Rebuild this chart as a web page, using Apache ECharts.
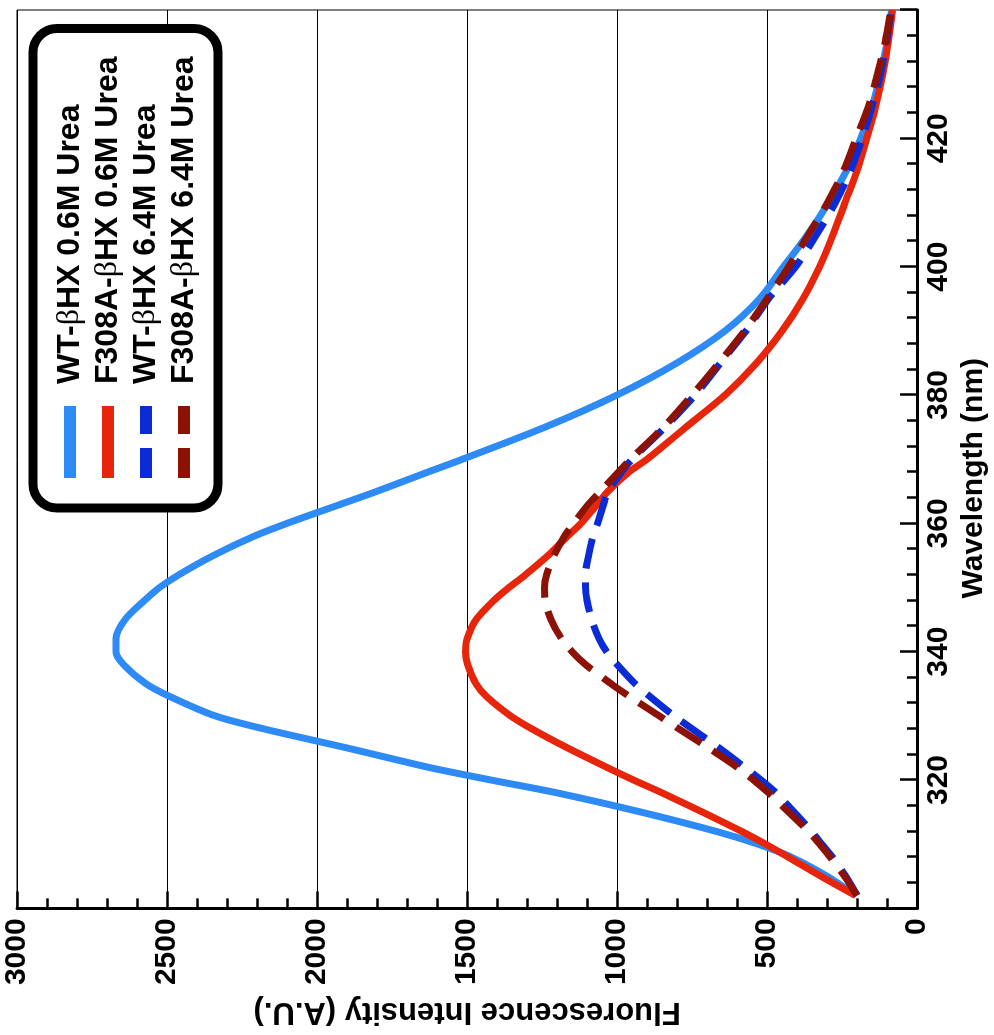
<!DOCTYPE html>
<html>
<head>
<meta charset="utf-8">
<title>Fluorescence</title>
<script src="https://cdn.jsdelivr.net/npm/echarts@6/dist/echarts.min.js"></script>
<style>
html, body { margin: 0; padding: 0; background: #fff; overflow: hidden; }
/* chart is drawn upright, then turned a quarter to the left like the figure */
#chart { position: absolute; left: 0; top: 0; width: 1035px; height: 994px;
  transform-origin: 0 0; transform: translate(0, 1035px) rotate(-90deg); }
</style>
</head>
<body>
<div id="chart"></div>
<script>
var wavelength = [302, 305, 308, 310, 312, 315, 318, 320, 322, 325, 328, 330, 333, 335, 338, 340, 342, 345, 348, 350,
  352, 355, 358, 360, 363, 365, 368, 370, 375, 380, 385, 390, 395, 400, 405, 410, 415, 420, 425, 430, 435, 440];

var wt06 = [205, 300, 420, 530, 670, 920, 1200, 1420, 1630, 1900, 2180, 2340, 2490, 2570, 2645, 2670, 2670, 2640, 2575, 2525,
  2460, 2345, 2210, 2100, 1920, 1800, 1630, 1515, 1240, 1000, 800, 640, 525, 445, 365, 295, 235, 188, 150, 122, 100, 85];

var f308a06 = [205, 320, 430, 505, 585, 715, 850, 945, 1035, 1165, 1285, 1355, 1435, 1470, 1498, 1505, 1500, 1470, 1410, 1360,
  1305, 1230, 1165, 1120, 1065, 1030, 960, 900, 770, 640, 535, 450, 380, 325, 280, 240, 200, 168, 138, 114, 96, 82];

var wt64 = [200, 238, 282, 318, 352, 410, 470, 520, 575, 660, 750, 810, 890, 940, 1000, 1035, 1060, 1085, 1100, 1105,
  1105, 1095, 1080, 1065, 1045, 1030, 985, 950, 840, 740, 655, 570, 495, 405, 335, 272, 222, 183, 150, 122, 102, 86];

var f308a64 = [200, 242, 290, 325, 362, 428, 495, 545, 600, 695, 795, 860, 958, 1020, 1105, 1150, 1185, 1220, 1240, 1242,
  1235, 1210, 1175, 1145, 1095, 1055, 995, 955, 845, 750, 660, 575, 500, 428, 362, 298, 245, 203, 162, 132, 106, 88];

var names = ['WT-βHX 0.6M Urea', 'F308A-βHX 0.6M Urea', 'WT-βHX 6.4M Urea', 'F308A-βHX 6.4M Urea'];
var colors = ['#2e8bf6', '#e6250b', '#0b2bd6', '#8b1204'];
var values = [wt06, f308a06, wt64, f308a64];
var dashed = [false, false, true, true];

function pairs(arr) {
	var out = [];
	for (var i = 0; i < wavelength.length; i++) {
		out.push([wavelength[i], arr[i]]);
	}
	return out;
}

var series = [];
for (var k = 0; k < names.length; k++) {
	series.push({
		name: names[k],
		type: 'line',
		data: pairs(values[k]),
		symbol: 'none',
		smooth: 0.3,
		color: colors[k],
		lineStyle: { color: colors[k], width: 7, type: dashed[k] ? [30, 14] : 'solid', cap: 'butt' }
	});
}

var font = 'Liberation Sans';

var myChart = echarts.init(document.getElementById('chart'));
var option = {
	animation: false,
	backgroundColor: '#fff',
	grid: { left: 122, right: 10, top: 17, bottom: 72, show: true, borderColor: '#000', borderWidth: 1 },
	xAxis: {
		type: 'value', min: 300, max: 440, interval: 20,
		name: 'Wavelength (nm)', nameLocation: 'middle', nameGap: 38,
		nameTextStyle: { fontFamily: font, fontSize: 30, fontWeight: 'bold', color: '#000', padding: [0, 38, 0, 0] },
		axisLine: { lineStyle: { color: '#000', width: 3 } },
		axisTick: { inside: true, length: 17, lineStyle: { color: '#000', width: 2.5 } },
		minorTick: { show: true, splitNumber: 5, length: 10, lineStyle: { color: '#000', width: 2.5 } },
		axisLabel: { showMinLabel: false, showMaxLabel: false, margin: 7, color: '#000',
			fontFamily: font, fontSize: 30, fontWeight: 'bold',
			formatter: function(v) { return String(v); } },
		splitLine: { show: false }
	},
	yAxis: {
		type: 'value', min: 0, max: 3000, interval: 500,
		name: 'Fluorescence Intensity (A.U.)', nameLocation: 'middle', nameGap: 86,
		nameTextStyle: { fontFamily: font, fontSize: 31, fontWeight: 'bold', color: '#000' },
		axisLine: { show: true, lineStyle: { color: '#000', width: 3 } },
		axisTick: { show: true, inside: true, length: 17, lineStyle: { color: '#000', width: 2.5 } },
		minorTick: { show: true, splitNumber: 5, length: 10, lineStyle: { color: '#000', width: 2.5 } },
		axisLabel: { margin: 10, color: '#000', fontFamily: font, fontSize: 30, fontWeight: 'bold',
			formatter: function(v) { return String(v); } },
		splitLine: { show: true, lineStyle: { color: '#000', width: 1 } }
	},
	legend: {
		orient: 'vertical', left: 527, top: 33,
		padding: [21, 28, 18, 24],
		itemWidth: 72, itemHeight: 12, itemGap: 6,
		borderColor: '#000', borderWidth: 9, borderRadius: 24,
		backgroundColor: '#fff',
		lineStyle: { width: 12 },
		itemStyle: { opacity: 0 },
		data: names,
		formatter: function(name) {
			var p = name.split('β');
			return '{a|' + p[0] + '}{b|β}{a|' + p[1] + '}';
		},
		textStyle: {
			color: '#000', fontFamily: font, fontSize: 32, fontWeight: 'bold', lineHeight: 32,
			padding: [0, 0, 0, 17],
			rich: {
				a: { color: '#000', fontFamily: font, fontSize: 32, fontWeight: 'bold', lineHeight: 32 },
				b: { color: '#000', fontFamily: 'Liberation Serif', fontSize: 32, fontWeight: 'normal', lineHeight: 32 }
			}
		}
	},
	series: series
};
myChart.setOption(option);
</script>
</body>
</html>
